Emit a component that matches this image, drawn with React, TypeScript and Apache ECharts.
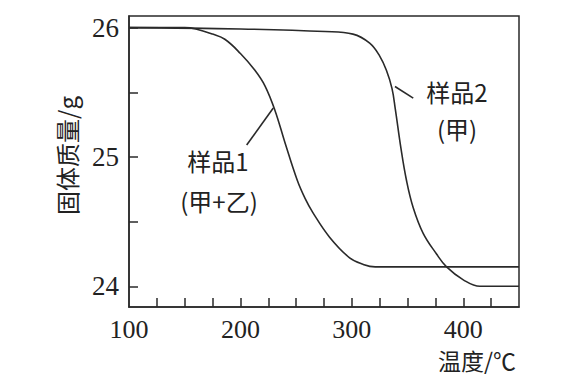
import React, { useEffect, useRef } from "react";
import * as echarts from "echarts";

const temp1 = [100, 150, 160, 175, 186, 200, 213, 222, 231, 240, 251, 258, 265, 280, 298, 310, 321, 450];
const mass1 = [26.0, 26.0, 25.99, 25.95, 25.91, 25.8, 25.67, 25.55, 25.36, 25.11, 24.82, 24.68, 24.57, 24.38, 24.22, 24.17, 24.15, 24.15];

const temp2 = [100, 200, 276, 301, 316, 325, 331, 336, 339, 344, 349, 355, 364, 376, 385, 400, 415, 450];
const mass2 = [26.0, 25.99, 25.97, 25.95, 25.88, 25.78, 25.67, 25.53, 25.37, 25.07, 24.82, 24.61, 24.41, 24.25, 24.15, 24.05, 24.0, 24.0];

const xTickValues = [125, 150, 175, 200, 225, 250, 275, 300, 325, 350, 375, 400, 425];
const xLabelValues = [100, 200, 300, 400];
const yTickValues = [24, 24.5, 25, 25.5, 26];
const yLabelValues = [24, 25, 26];

const leader1 = [[205.6, 25.093], [229.5, 25.378]];
const leader2 = [[338.7, 25.545], [355.1, 25.455]];

const LINE = "#2a2a2a";
const SERIF = "'Liberation Serif', 'DejaVu Serif', serif";
const CJK = "'Noto Sans CJK SC', sans-serif";

export default function App() {
  const ref = useRef<HTMLDivElement>(null);
  useEffect(() => {
    if (!ref.current) return;
    const chart = echarts.init(ref.current, undefined, { renderer: "svg" });
    const axisLine = { show: true, lineStyle: { color: LINE, width: 1.5 } };
    chart.setOption({
      animation: false,
      backgroundColor: "#ffffff",
      grid: {
        left: 129,
        top: 16,
        right: 58,
        bottom: 74,
        show: true,
        borderColor: LINE,
        borderWidth: 1.5,
      },
      xAxis: {
        type: "value",
        min: 100,
        max: 450,
        axisLine,
        splitLine: { show: false },
        axisTick: {
          show: true,
          inside: true,
          length: 9,
          customValues: xTickValues,
          lineStyle: { color: LINE, width: 1.5 },
        },
        axisLabel: {
          customValues: xLabelValues,
          margin: 9,
          color: "#222",
          fontFamily: SERIF,
          fontSize: 26,
        },
      },
      yAxis: {
        type: "value",
        min: 23.84,
        max: 26.09,
        axisLine,
        splitLine: { show: false },
        axisTick: {
          show: true,
          inside: true,
          length: 9,
          customValues: yTickValues,
          lineStyle: { color: LINE, width: 1.5 },
        },
        axisLabel: {
          customValues: yLabelValues,
          margin: 10,
          color: "#222",
          fontFamily: SERIF,
          fontSize: 27,
          formatter: (v: number) => String(Math.round(v)),
        },
        name: "固体质量/g",
        nameLocation: "middle",
        nameRotate: 90,
        nameGap: 51,
        nameTextStyle: { color: "#222", fontFamily: CJK, fontSize: 24, padding: [0, 0, 0, 12] },
      },
      series: [
        {
          name: "样品1",
          type: "line",
          data: temp1.map((t, i) => [t, mass1[i]]),
          smooth: 0.4,
          showSymbol: false,
          symbol: "none",
          lineStyle: { color: LINE, width: 1.6 },
          markLine: {
            silent: true,
            symbol: "none",
            label: { show: false },
            lineStyle: { color: LINE, width: 1.6, type: "solid" },
            data: [[{ coord: leader1[0] }, { coord: leader1[1] }]],
          },
        },
        {
          name: "样品2",
          type: "line",
          data: temp2.map((t, i) => [t, mass2[i]]),
          smooth: 0.4,
          showSymbol: false,
          symbol: "none",
          lineStyle: { color: LINE, width: 1.6 },
          markLine: {
            silent: true,
            symbol: "none",
            label: { show: false },
            lineStyle: { color: LINE, width: 1.6, type: "solid" },
            data: [[{ coord: leader2[0] }, { coord: leader2[1] }]],
          },
        },
      ],
      graphic: [
        {
          type: "text",
          x: 218,
          y: 160,
          style: { text: "样品1", fill: "#222", font: `24px ${CJK}`, align: "center", verticalAlign: "middle" },
        },
        {
          type: "text",
          x: 219,
          y: 200,
          style: { text: "(甲+乙)", fill: "#222", font: `24px ${CJK}`, align: "center", verticalAlign: "middle" },
        },
        {
          type: "text",
          x: 457,
          y: 91,
          style: { text: "样品2", fill: "#222", font: `24px ${CJK}`, align: "center", verticalAlign: "middle" },
        },
        {
          type: "text",
          x: 457,
          y: 128,
          style: { text: "(甲)", fill: "#222", font: `24px ${CJK}`, align: "center", verticalAlign: "middle" },
        },
        {
          type: "text",
          x: 477,
          y: 360,
          style: { text: "温度/℃", fill: "#222", font: `23px ${CJK}`, align: "center", verticalAlign: "middle" },
        },
      ],
    });
    return () => chart.dispose();
  }, []);
  return (
    <div
      ref={ref}
      style={{ position: "fixed", left: 0, top: 0, width: 577, height: 381, background: "#fff" }}
    />
  );
}
